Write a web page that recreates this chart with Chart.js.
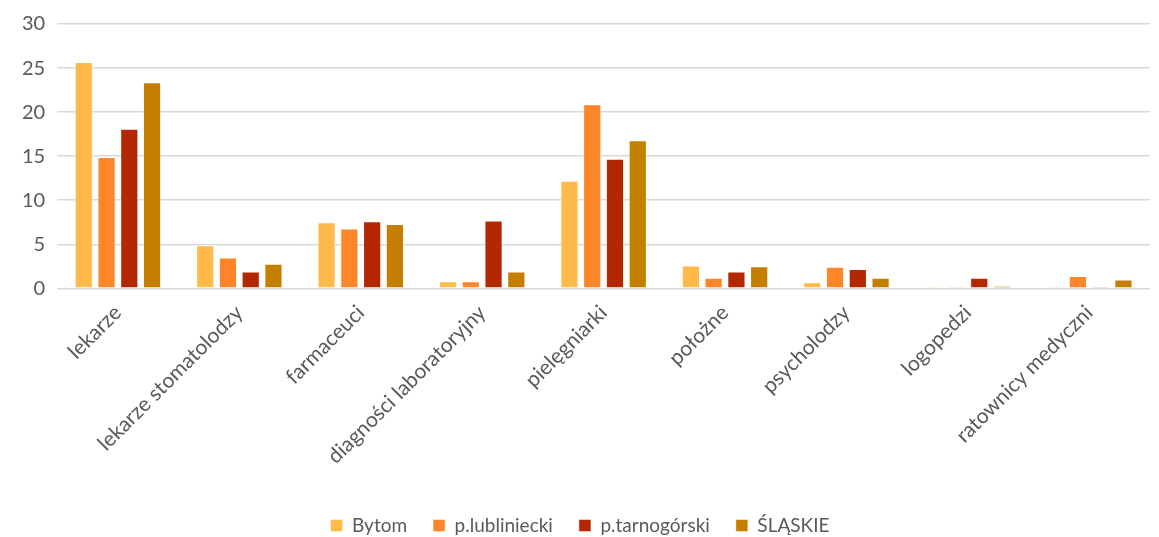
<!DOCTYPE html>
<html>
<head>
<meta charset="utf-8">
<script src="https://cdn.jsdelivr.net/npm/chart.js@4"></script>
<style>
  html, body { margin: 0; padding: 0; background: #fff; }
  #wrap { width: 1159px; height: 537px; position: relative; }
</style>
</head>
<body>
<div id="wrap"><canvas id="chart"></canvas></div>
<script>
const categories = ['lekarze', 'lekarze stomatolodzy', 'farmaceuci', 'diagności laboratoryjny',
    'pielęgniarki', 'położne', 'psycholodzy', 'logopedzi', 'ratownicy medyczni'];
const bytom = [25.7, 4.9, 7.5, 0.8, 12.2, 2.6, 0.7, 0.15, 0.15];
const lubliniecki = [14.9, 3.5, 6.8, 0.8, 20.9, 1.2, 2.45, 0.05, 1.4];
const tarnogorski = [18.1, 1.9, 7.6, 7.7, 14.7, 1.9, 2.2, 1.2, 0.05];
const slaskie = [23.4, 2.8, 7.3, 1.9, 16.8, 2.5, 1.2, 0.3, 1.0];
const yTicks = [0, 5, 10, 15, 20, 25, 30];

const fontFamily = 'Lato, "Open Sans", sans-serif';
const textColor = '#595959';

function series(label, data, color) {
    return {
        label: label,
        data: data,
        backgroundColor: color,
        borderColor: 'rgba(255,255,255,0.45)',
        borderWidth: 1,
        barPercentage: 0.8,
        categoryPercentage: 0.75
    };
}

// push the legend a bit lower than Chart.js puts it
const legendShift = {
    id: 'legendShift',
    afterLayout: function (chart) {
        chart.legend.top += 10;
        chart.legend.bottom += 10;
    }
};

new Chart(document.getElementById('chart'), {
    type: 'bar',
    data: {
        labels: categories,
        datasets: [
            series('Bytom', bytom, '#FFBA4A'),
            series('p.lubliniecki', lubliniecki, '#FF8628'),
            series('p.tarnogórski', tarnogorski, '#B32800'),
            series('ŚLĄSKIE', slaskie, '#C47F00')
        ]
    },
    plugins: [legendShift],
    options: {
        responsive: true,
        maintainAspectRatio: false,
        animation: false,
        layout: { padding: { left: 10, right: 9, top: 14, bottom: 2 } },
        plugins: {
            tooltip: { enabled: false },
            legend: {
                position: 'bottom',
                labels: {
                    boxWidth: 12,
                    boxHeight: 12,
                    padding: 26,
                    color: textColor,
                    font: { family: fontFamily, size: 19 }
                }
            }
        },
        scales: {
            x: {
                grid: { display: false },
                border: { display: false },
                afterFit: function (axis) {
                    axis.height += 7;
                },
                ticks: {
                    minRotation: 45,
                    maxRotation: 45,
                    color: textColor,
                    font: { family: fontFamily, size: 21 },
                    padding: 4
                }
            },
            y: {
                min: 0,
                max: 30,
                afterBuildTicks: function (axis) {
                    axis.ticks = yTicks.map(v => ({ value: v }));
                },
                grid: { color: '#d9d9d9', lineWidth: 1.5, drawTicks: false },
                border: { display: false },
                ticks: {
                    color: textColor,
                    font: { family: fontFamily, size: 20 },
                    padding: 12
                }
            }
        }
    }
});
</script>
</body>
</html>
